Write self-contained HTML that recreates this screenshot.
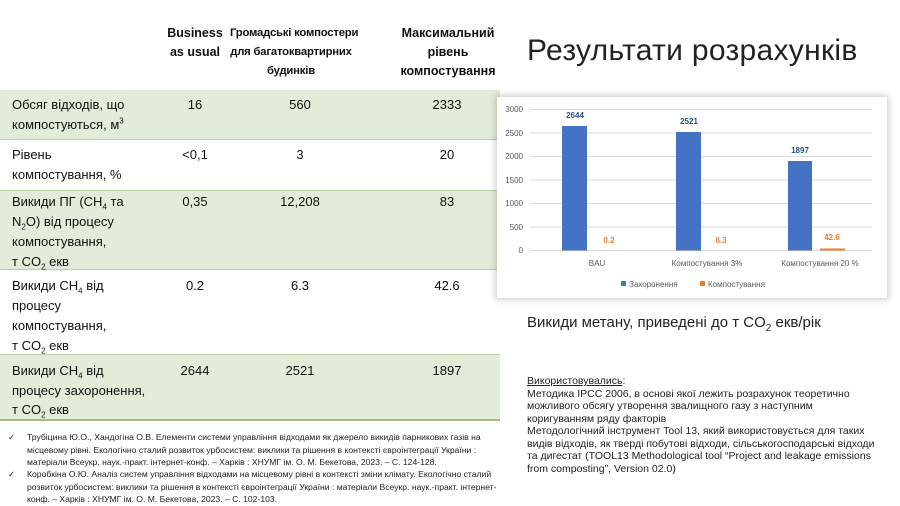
<!DOCTYPE html>
<html><head><meta charset="utf-8"><style>
body{margin:0;width:900px;height:502px;overflow:hidden;background:#fff;font-family:"Liberation Sans","DejaVu Sans",sans-serif;position:relative;color:#111}
.a{position:absolute}
sub,sup{line-height:0;font-size:8px}
.row{position:absolute;left:0;width:500px;border-bottom:1px solid #b9cfa3}
.g{background:#e3ecd8}
.c{position:absolute;font-size:13px;line-height:19.5px;white-space:nowrap}
.h{font-weight:bold;text-align:center;font-size:12.5px;line-height:19px;white-space:nowrap}
.ctr{text-align:center;width:110px}
.ft{font-size:8.6px;line-height:12.5px;color:#222}
</style></head><body>
<div class="row" style="top:0;height:90px;border-bottom:2px solid #9dbd7e"></div>
<div class="row g" style="top:90px;height:49px"></div>
<div class="row" style="top:140px;height:50px"></div>
<div class="row g" style="top:191px;height:78px"></div>
<div class="row" style="top:270px;height:84px"></div>
<div class="row g" style="top:355px;height:64px;border-bottom:2px solid #9dbd7e"></div>

<div class="a h" style="left:150px;top:24px;width:90px">Business<br>as usual</div>
<div class="a h" style="left:230px;top:24px;width:122px;font-size:11.3px;letter-spacing:-0.2px">Громадські компостери<br>для багатоквартирних<br>будинків</div>
<div class="a h" style="left:383px;top:24px;width:130px">Максимальний<br>рівень<br>компостування</div>

<div class="c" style="left:12px;top:95px">Обсяг відходів, що<br>компостуються, м<sup>3</sup></div>
<div class="c ctr" style="left:140px;top:95px">16</div>
<div class="c ctr" style="left:245px;top:95px">560</div>
<div class="c ctr" style="left:392px;top:95px">2333</div>

<div class="c" style="left:12px;top:145px">Рівень<br>компостування, %</div>
<div class="c ctr" style="left:140px;top:145px">&lt;0,1</div>
<div class="c ctr" style="left:245px;top:145px">3</div>
<div class="c ctr" style="left:392px;top:145px">20</div>

<div class="c" style="left:12px;top:192px;line-height:20px">Викиди ПГ (CH<sub>4</sub> та<br>N<sub>2</sub>O) від процесу<br>компостування,<br>т CO<sub>2</sub> екв</div>
<div class="c ctr" style="left:140px;top:192px">0,35</div>
<div class="c ctr" style="left:245px;top:192px">12,208</div>
<div class="c ctr" style="left:392px;top:192px">83</div>

<div class="c" style="left:12px;top:276px;line-height:20px">Викиди CH<sub>4</sub> від<br>процесу<br>компостування,<br>т CO<sub>2</sub> екв</div>
<div class="c ctr" style="left:140px;top:276px">0.2</div>
<div class="c ctr" style="left:245px;top:276px">6.3</div>
<div class="c ctr" style="left:392px;top:276px">42.6</div>

<div class="c" style="left:12px;top:361px">Викиди CH<sub>4</sub> від<br>процесу захоронення,<br>т CO<sub>2</sub> екв</div>
<div class="c ctr" style="left:140px;top:361px">2644</div>
<div class="c ctr" style="left:245px;top:361px">2521</div>
<div class="c ctr" style="left:392px;top:361px">1897</div>

<div class="a ft" style="left:8px;top:431px">✓</div>
<div class="a ft" style="left:27px;top:431px;width:475px">Трубіцина Ю.О., Хандогіна О.В. Елементи системи управління відходами як джерело викидів парникових газів на місцевому рівні. Екологічно сталий розвиток урбосистем: виклики та рішення в контексті євроінтеграції України : матеріали Всеукр. наук.-практ. інтернет-конф. – Харків : ХНУМГ ім. О. М. Бекетова, 2023. – С. 124-128.</div>
<div class="a ft" style="left:8px;top:468px">✓</div>
<div class="a ft" style="left:27px;top:468px;width:475px">Коробкіна О.Ю. Аналіз систем управління відходами на місцевому рівні в контексті зміни клімату. Екологічно сталий розвиток урбосистем: виклики та рішення в контексті євроінтеграції України : матеріали Всеукр. наук.-практ. інтернет-конф. – Харків : ХНУМГ ім. О. М. Бекетова, 2023. – С. 102-103.</div>

<div class="a" style="left:527px;top:34px;font-size:30px;color:#222;letter-spacing:0.3px">Результати розрахунків</div>

<div class="a" style="left:497px;top:97px;width:390px;height:201px;background:#fff;box-shadow:0 0 6px 2px rgba(0,0,0,0.18)"></div>
<svg class="a" style="left:0;top:0" width="900" height="502" font-family="Liberation Sans, sans-serif">
<g stroke="#d9d9d9" stroke-width="1">
<line x1="530" x2="872" y1="109.5" y2="109.5"/><line x1="530" x2="872" y1="133" y2="133"/><line x1="530" x2="872" y1="156.5" y2="156.5"/><line x1="530" x2="872" y1="180" y2="180"/><line x1="530" x2="872" y1="203.5" y2="203.5"/><line x1="530" x2="872" y1="227" y2="227"/><line x1="530" x2="872" y1="250.5" y2="250.5"/></g>
<g font-size="8" fill="#595959" text-anchor="end">
<text x="523" y="112">3000</text><text x="523" y="136">2500</text><text x="523" y="159">2000</text><text x="523" y="183">1500</text><text x="523" y="206">1000</text><text x="523" y="230">500</text><text x="523" y="253">0</text></g>
<g fill="#4472c4"><rect x="562" y="126" width="25" height="124.5"/><rect x="676" y="132" width="25" height="118.5"/><rect x="788" y="161" width="24" height="89.5"/></g>
<rect x="820" y="248.5" width="25" height="2" fill="#ed7d31"/>
<g font-size="8" font-weight="bold" fill="#2f4a80" text-anchor="middle"><text x="575" y="118">2644</text><text x="689" y="124">2521</text><text x="800" y="153">1897</text></g>
<g font-size="8" font-weight="bold" fill="#ed7d31" text-anchor="middle"><text x="609" y="243">0.2</text><text x="721" y="243">6.3</text><text x="832" y="240">42.6</text></g>
<g font-size="8" fill="#595959" text-anchor="middle"><text x="597" y="266">BAU</text><text x="707" y="266">Компостування 3%</text><text x="820" y="266">Компостування 20 %</text></g>
<rect x="621" y="281" width="5" height="5" fill="#4472c4"/><text x="629" y="287" font-size="8" fill="#595959">Захоронення</text>
<rect x="700" y="281" width="5" height="5" fill="#ed7d31"/><text x="708" y="287" font-size="8" fill="#595959">Компостування</text>
</svg>

<div class="a" style="left:527px;top:314px;font-size:15px;color:#222">Викиди метану, приведені до т CO<sub style="font-size:10px">2</sub> екв/рік</div>

<div class="a" style="left:527px;top:375px;width:350px;font-size:10.5px;line-height:12.5px;color:#222"><u>Використовувались</u>:<br>Методика IPCC 2006, в основі якої лежить розрахунок теоретично можливого обсягу утворення звалищного газу з наступним коригуванням ряду факторів<br>Методологічний інструмент Tool 13, який використовується для таких видів відходів, як тверді побутові відходи, сільськогосподарські відходи та дигестат (TOOL13 Methodological tool “Project and leakage emissions from composting”, Version 02.0)</div>
</body></html>
